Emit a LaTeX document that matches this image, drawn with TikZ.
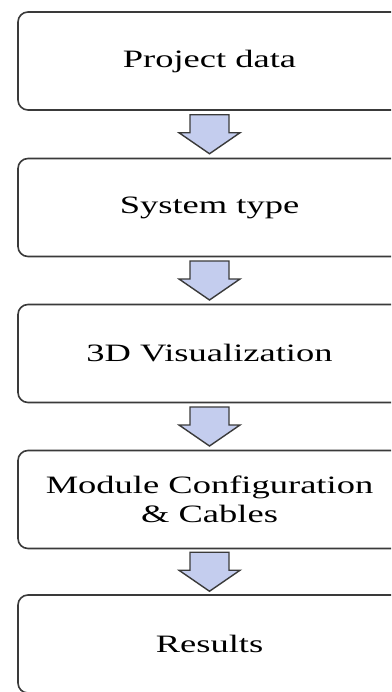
\documentclass[tikz,border=0pt]{standalone}
\usepackage{fontspec}
\setmainfont{Liberation Serif}
\usetikzlibrary{calc}
\definecolor{boxline}{RGB}{58,58,58}
\definecolor{arrowfill}{RGB}{196,205,238}
\newcommand\wtxt[1]{\scalebox{1.46}[1]{#1}}
\tikzset{
  stepbox/.style={draw=boxline, line width=1.6pt, rounded corners=10pt, fill=white,
    minimum width=383pt, minimum height=98pt, inner sep=0pt, align=center,
    font=\fontsize{25}{29}\selectfont},
  blockarrow/.style={draw=boxline, line width=1.4pt, fill=arrowfill, line join=miter},
}
\newcommand\flowarrow[2]{%
  \path ($(#1.south)!0.5!(#2.north)$) coordinate (m-#1);
  \draw[blockarrow, shift={(m-#1)}] (-19.5,-19.5) -- (19.5,-19.5) -- (19.5,-1.5) -- (30.5,-1.5)
     -- (0,19.5) -- (-30.5,-1.5) -- (-19.5,-1.5) -- cycle;
}
\begin{document}
\begin{tikzpicture}[x=1pt,y=-1pt]
\useasboundingbox (0,0) rectangle (391,692);
\clip (0,0) rectangle (391,692);
\node[stepbox] (b1) at (209.5,61) {\wtxt{Project data}};
\node[stepbox] (b2) at (209.5,207.5) {\wtxt{System type}};
\node[stepbox] (b3) at (209.5,353.5) {\wtxt{3D Visualization}};
\node[stepbox] (b4) at (209.5,499.5) {\wtxt{Module Configuration}\\\wtxt{\& Cables}};
\node[stepbox] (b5) at (209.5,644) {\wtxt{Results}};
\flowarrow{b1}{b2}
\flowarrow{b2}{b3}
\flowarrow{b3}{b4}
\flowarrow{b4}{b5}
\end{tikzpicture}
\end{document}
